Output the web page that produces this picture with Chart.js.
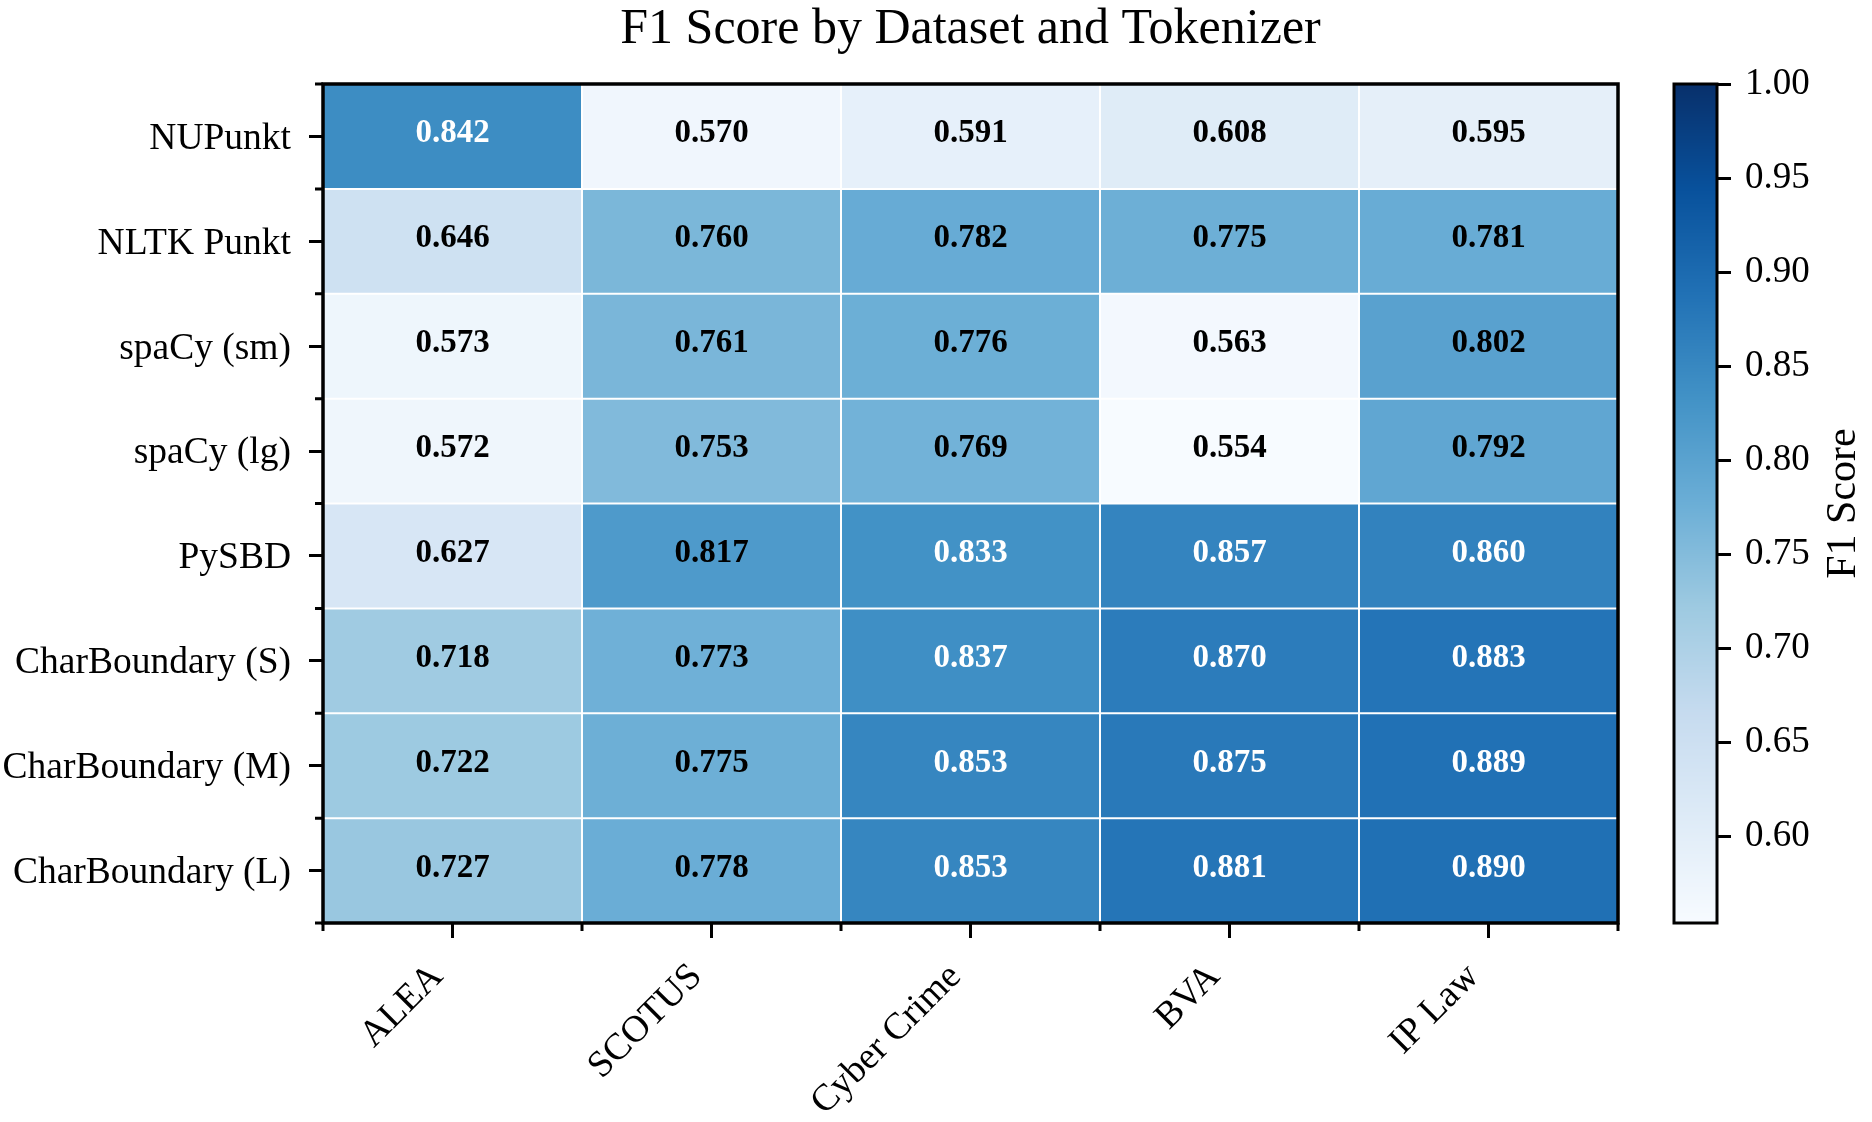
<!DOCTYPE html>
<html><head><meta charset="utf-8">
<script src="https://cdn.jsdelivr.net/npm/chart.js@4.4.0/dist/chart.umd.min.js"></script>
<style>html,body{margin:0;padding:0;background:#fff;}#wrap{width:1872px;height:1122px;}</style>
</head><body><div id="wrap"><canvas id="c" width="1872" height="1122"></canvas></div>
<script>
// ---- data ----
const datasetNames = ['ALEA', 'SCOTUS', 'Cyber Crime', 'BVA', 'IP Law'];
const tokenizers = ['NUPunkt', 'NLTK Punkt', 'spaCy (sm)', 'spaCy (lg)', 'PySBD', 'CharBoundary (S)', 'CharBoundary (M)', 'CharBoundary (L)'];
const f1NUPunkt   = [0.842, 0.570, 0.591, 0.608, 0.595];
const f1NLTKPunkt = [0.646, 0.760, 0.782, 0.775, 0.781];
const f1SpacySm   = [0.573, 0.761, 0.776, 0.563, 0.802];
const f1SpacyLg   = [0.572, 0.753, 0.769, 0.554, 0.792];
const f1PySBD     = [0.627, 0.817, 0.833, 0.857, 0.860];
const f1CharBoundS = [0.718, 0.773, 0.837, 0.870, 0.883];
const f1CharBoundM = [0.722, 0.775, 0.853, 0.875, 0.889];
const f1CharBoundL = [0.727, 0.778, 0.853, 0.881, 0.890];
const colorbarTicks = [0.60, 0.65, 0.70, 0.75, 0.80, 0.85, 0.90, 0.95, 1.00];
const colorMax = 1.0;
const titleText = 'F1 Score by Dataset and Tokenizer';
const colorbarLabel = 'F1 Score';

const rows = [f1NUPunkt, f1NLTKPunkt, f1SpacySm, f1SpacyLg, f1PySBD, f1CharBoundS, f1CharBoundM, f1CharBoundL];
const colorMin = Math.min(...rows.flat());

// ---- matplotlib "Blues" colormap ----
const BLUES = [[247,251,255],[222,235,247],[198,219,239],[158,202,225],[107,174,214],[66,146,198],[33,113,181],[8,81,156],[8,48,107]];
function norm(v){ return Math.max(0, Math.min(1, (v - colorMin) / (colorMax - colorMin))); }
function blues(t){
  const s = t * (BLUES.length - 1);
  const i = Math.min(BLUES.length - 2, Math.floor(s));
  const f = s - i;
  const a = BLUES[i], b = BLUES[i + 1];
  return 'rgb(' + [0,1,2].map(k => Math.round(a[k] + (b[k] - a[k]) * f)).join(',') + ')';
}

const FONT = "'Liberation Serif', 'Times New Roman', serif";

const heatPlugin = {
  id: 'heat',
  afterDatasetsDraw(chart) {
    const {ctx} = chart;
    const x = chart.scales.x, y = chart.scales.y;
    ctx.save();
    ctx.font = 'bold 33px ' + FONT;
    ctx.textAlign = 'center';
    ctx.textBaseline = 'alphabetic';
    rows.forEach((vals, r) => vals.forEach((v, c) => {
      ctx.fillStyle = norm(v) > 0.6 ? '#ffffff' : '#000000';
      ctx.fillText(v.toFixed(3), x.getPixelForValue(c), y.getPixelForValue(r + 0.5) + 6);
    }));
    ctx.restore();
  },
  afterDraw(chart) {
    const {ctx, chartArea: ca} = chart;
    const x = chart.scales.x, y = chart.scales.y, cb = chart.scales.cb, gap = chart.scales.gap;
    ctx.save();
    // minor ticks at cell boundaries
    ctx.strokeStyle = '#000'; ctx.lineWidth = 3; ctx.lineCap = 'butt';
    ctx.beginPath();
    for (let i = 0; i <= datasetNames.length; i++) {
      const px = x.getPixelForValue(i - 0.5);
      ctx.moveTo(px, ca.bottom); ctx.lineTo(px, ca.bottom + 8);
    }
    for (let i = 0; i <= tokenizers.length; i++) {
      const py = y.getPixelForValue(i);
      ctx.moveTo(ca.left, py); ctx.lineTo(ca.left - 8, py);
    }
    ctx.stroke();
    // spines
    ctx.lineWidth = 3.5;
    ctx.strokeRect(ca.left, ca.top, ca.right - ca.left, ca.bottom - ca.top);
    // colorbar
    const x2 = gap.right, x1 = x2 - 43;
    for (let py = Math.floor(cb.top); py < Math.ceil(cb.bottom); py++) {
      ctx.fillStyle = blues(norm(cb.getValueForPixel(py + 0.5)));
      ctx.fillRect(x1, py, x2 - x1, 1);
    }
    ctx.lineWidth = 3;
    ctx.strokeStyle = '#000';
    ctx.strokeRect(x1, cb.top, x2 - x1, cb.bottom - cb.top);
    // colorbar label
    ctx.translate(x2 + 138, (cb.top + cb.bottom) / 2);
    ctx.rotate(-Math.PI / 2);
    ctx.font = '42px ' + FONT;
    ctx.fillStyle = '#000';
    ctx.textAlign = 'center';
    ctx.textBaseline = 'alphabetic';
    ctx.fillText(colorbarLabel, 0, 0);
    ctx.restore();
  }
};

const chartDatasets = rows.map((vals, r) => ({
  label: tokenizers[r],
  data: vals.map(() => [r, r + 1]),
  backgroundColor: vals.map(v => blues(norm(v))),
  borderColor: 'rgba(255,255,255,0.2)',
  borderWidth: 1,
  borderSkipped: false,
  inflateAmount: 0,
  grouped: false,
  barPercentage: 1,
  categoryPercentage: 1,
  yAxisID: 'y'
}));

new Chart(document.getElementById('c'), {
  type: 'bar',
  data: { labels: datasetNames, datasets: chartDatasets },
  plugins: [heatPlugin],
  options: {
    responsive: false,
    animation: false,
    devicePixelRatio: 1,
    layout: { padding: 0 },
    plugins: {
      legend: { display: false },
      tooltip: { enabled: false },
      title: {
        display: true, text: titleText, color: '#000', fullSize: false,
        font: { family: FONT, size: 50, weight: 'normal', lineHeight: 1 },
        padding: { top: 5, bottom: 29 }
      }
    },
    scales: {
      x: {
        type: 'category', position: 'bottom', offset: true,
        border: { display: false },
        grid: { display: true, offset: false, drawOnChartArea: false, drawTicks: true, tickLength: 15, color: '#000', lineWidth: 3 },
        ticks: { color: '#000', font: { family: FONT, size: 37.5 }, minRotation: 45, maxRotation: 45, labelOffset: -15, padding: 17, autoSkip: false },
        afterFit(s) { s.height = 199; }
      },
      y: {
        type: 'linear', position: 'left', min: 0, max: tokenizers.length, reverse: true,
        border: { display: false },
        grid: { display: true, drawOnChartArea: false, drawTicks: true, tickLength: 14, color: '#000', lineWidth: 3 },
        afterBuildTicks(s) { s.ticks = tokenizers.map((t, i) => ({ value: i + 0.5 })); },
        ticks: { color: '#000', font: { family: FONT, size: 37.5 }, padding: 18, labelOffset: 2.5, autoSkip: false, callback: (v, i) => tokenizers[i] },
        afterFit(s) { s.width = 323; }
      },
      gap: {
        type: 'linear', position: 'right', weight: 0, display: true,
        border: { display: false }, grid: { display: false }, ticks: { display: false },
        afterFit(s) { s.width = 99; }
      },
      cb: {
        type: 'linear', position: 'right', weight: 1, min: colorMin, max: colorMax,
        border: { display: false },
        grid: { display: true, drawOnChartArea: false, drawTicks: true, tickLength: 14, color: '#000', lineWidth: 3 },
        afterBuildTicks(s) { s.ticks = colorbarTicks.map(v => ({ value: v })); },
        ticks: { color: '#000', font: { family: FONT, size: 37 }, padding: 14, autoSkip: false, callback: v => Number(v).toFixed(2) },
        afterFit(s) { s.width = 155; }
      }
    }
  }
});
</script></body></html>
